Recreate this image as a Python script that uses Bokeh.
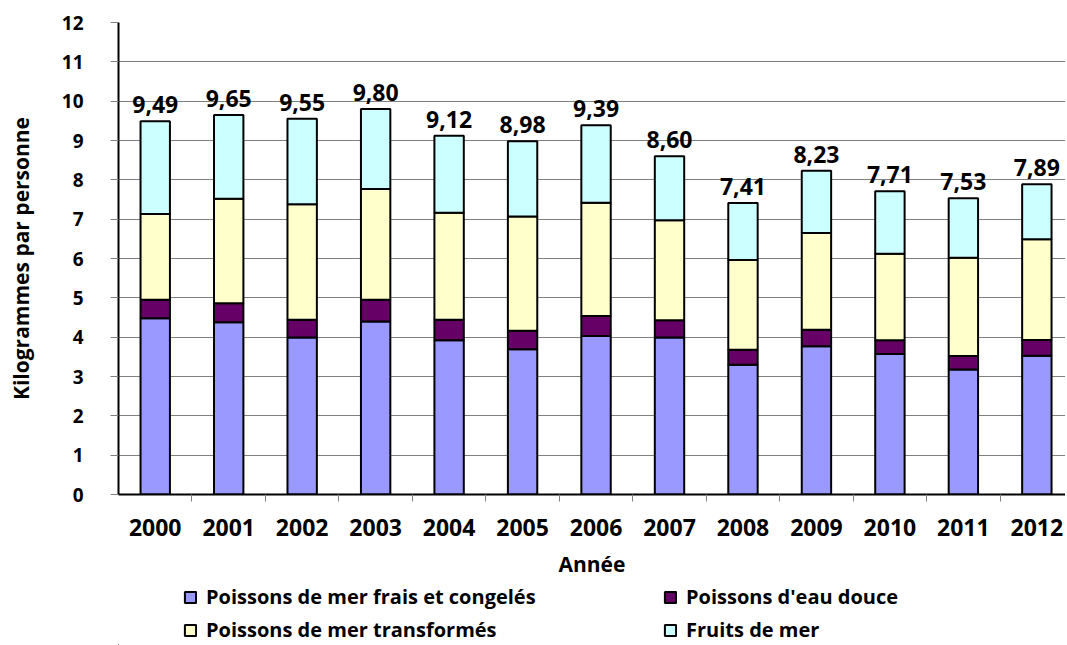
from bokeh.plotting import figure
from bokeh.layouts import column
from bokeh.models import ColumnDataSource, FixedTicker, Legend, LegendItem, Range1d
from bokeh.embed import file_html
from bokeh.resources import INLINE
from bokeh.core.properties import value

years = [2000, 2001, 2002, 2003, 2004, 2005, 2006, 2007, 2008, 2009, 2010, 2011, 2012]
frais = [4.48, 4.38, 3.99, 4.40, 3.92, 3.69, 4.03, 3.99, 3.30, 3.77, 3.57, 3.18, 3.53]
eau_douce = [0.47, 0.48, 0.45, 0.55, 0.52, 0.47, 0.51, 0.44, 0.38, 0.42, 0.35, 0.34, 0.40]
transformes = [2.18, 2.66, 2.94, 2.82, 2.72, 2.91, 2.88, 2.54, 2.28, 2.46, 2.20, 2.50, 2.56]
fruits = [2.36, 2.13, 2.17, 2.03, 1.96, 1.91, 1.97, 1.63, 1.45, 1.58, 1.59, 1.51, 1.40]
series_names = ["Poissons de mer frais et congelés", "Poissons d'eau douce",
                "Poissons de mer transformés", "Fruits de mer"]
colors = ["#9999FF", "#660066", "#FFFFCC", "#CCFFFF"]
y_ticks = list(range(0, 13))

FONT = "Open Sans"
W = 1065

totals = [round(a + b + c + d, 2) for a, b, c, d in zip(frais, eau_douce, transformes, fruits)]
labels = [f"{t:.2f}".replace(".", ",") for t in totals]

src = ColumnDataSource(dict(x=years, frais=frais, eau=eau_douce, trans=transformes,
                            fruits=fruits, total=totals, label=labels))

# the original plot area runs slightly past the right edge of the picture
p = figure(width=W, height=583, output_backend="svg", toolbar_location=None,
           x_range=Range1d(years[0] - 0.5, years[-1] + 0.39), y_range=Range1d(0, 12),
           min_border_left=118, min_border_right=0, min_border_top=22, min_border_bottom=89)
p.outline_line_color = None

renderers = p.vbar_stack(["frais", "eau", "trans", "fruits"], x="x", width=0.4, source=src,
                         fill_color=colors, line_color="black", line_width=2)

p.text(x="x", y="total", text="label", source=src, text_align="center",
       text_baseline="bottom", y_offset=-8, text_font=value(FONT),
       text_font_size="23px", text_font_style="bold", text_color="black")

# axes
p.yaxis.ticker = FixedTicker(ticks=y_ticks)
p.yaxis.axis_label = "Kilogrammes par personne"
p.yaxis.axis_label_text_font = FONT
p.yaxis.axis_label_text_font_size = "21px"
p.yaxis.axis_label_text_font_style = "bold"
p.yaxis.axis_label_text_color = "black"
p.yaxis.axis_label_standoff = 24
p.yaxis.major_label_text_font = FONT
p.yaxis.major_label_text_font_size = "19px"
p.yaxis.major_label_text_font_style = "bold"
p.yaxis.major_label_text_color = "black"
p.yaxis.major_label_standoff = 27
p.yaxis.major_tick_out = 8
p.yaxis.major_tick_in = 0
p.yaxis.minor_tick_line_color = None
p.yaxis.axis_line_color = "black"
p.yaxis.axis_line_width = 2
p.yaxis.major_tick_line_color = "#808080"

p.xaxis.ticker = FixedTicker(ticks=years, minor_ticks=[y + 0.5 for y in years[:-1]])
p.xaxis.major_label_overrides = {y: str(y) for y in years}
p.xaxis.axis_label = "Année"
p.xaxis.axis_label_text_font = FONT
p.xaxis.axis_label_text_font_size = "21px"
p.xaxis.axis_label_text_font_style = "bold"
p.xaxis.axis_label_text_color = "black"
p.xaxis.axis_label_standoff = 11
p.xaxis.major_label_text_font = FONT
p.xaxis.major_label_text_font_size = "23px"
p.xaxis.major_label_text_font_style = "bold"
p.xaxis.major_label_text_color = "black"
p.xaxis.major_label_standoff = 17
p.xaxis.major_tick_line_color = None
p.xaxis.major_tick_out = 7
p.xaxis.minor_tick_out = 7
p.xaxis.minor_tick_in = 0
p.xaxis.minor_tick_line_color = "#808080"
p.xaxis.axis_line_color = "black"
p.xaxis.axis_line_width = 2

p.xgrid.grid_line_color = None
p.ygrid.grid_line_color = "#808080"
p.ygrid.grid_line_width = 1

# legend strip below the chart (its frame is aligned with the chart's frame)
pl = figure(width=W, height=62, output_backend="svg", toolbar_location=None,
            x_axis_location=None, y_axis_location=None, min_border=0,
            x_range=Range1d(0, 1), y_range=Range1d(0, 1))
pl.outline_line_color = None
pl.grid.grid_line_color = None
# zero-height proxies far outside the visible range, used only for the legend swatches
leg_renderers = [pl.vbar(x=[-50], top=[-50], bottom=[-50], width=0.4, fill_color=c,
                         line_color="black", line_width=2) for c in colors]
order = [0, 2, 1, 3]  # legend fills column by column; this gives row-wise stack order
items = [LegendItem(label=series_names[i], renderers=[leg_renderers[i]]) for i in order]
legend = Legend(items=items, ncols=2, location=(65, 2), border_line_color=None,
                background_fill_alpha=0, padding=0, margin=0, spacing=6,
                glyph_width=14, glyph_height=14, label_height=20, label_standoff=9,
                label_width=451, label_text_font=FONT, label_text_font_size="20px",
                label_text_font_style="bold", label_text_color="black")
pl.add_layout(legend, "center")

layout = column(p, pl, spacing=0)
open("out.html", "w").write(file_html(layout, INLINE))
